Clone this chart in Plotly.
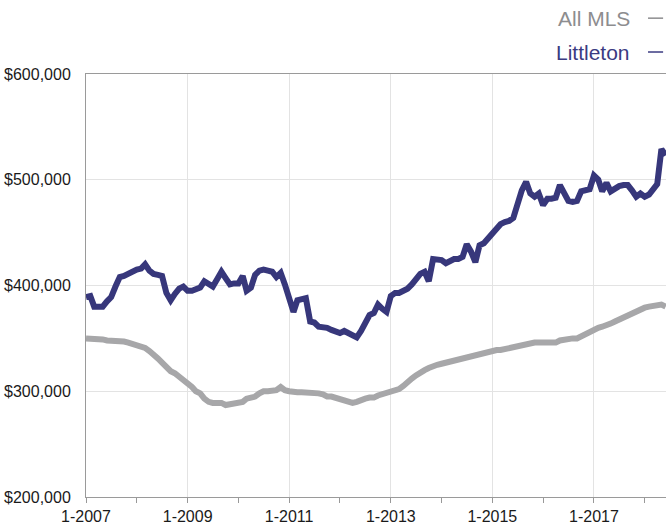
import pandas as pd
import plotly.graph_objects as go

# Monthly median sale price, Jan 2007 - Jun 2018 (thousands of dollars)
months = pd.date_range("2007-01-01", periods=138, freq="MS")

littleton_k = [
    389, 390, 380, 380, 380, 385, 389, 399, 408, 409, 411, 414,
    415, 416, 420, 414, 411, 410, 409, 393, 386, 392, 397, 399,
    395, 395, 396, 398, 404, 401, 399, 406, 413, 407, 401, 402,
    402, 409, 395, 398, 410, 414, 415, 414, 413, 408, 412, 401,
    389, 375, 386, 387, 388, 366, 365, 361, 361, 360, 358, 356,
    355, 357, 355, 353, 351, 357, 366, 372, 374, 382, 378, 375,
    390, 393, 393, 395, 397, 401, 407, 411, 413, 404, 425, 425,
    424, 421, 423, 425, 425, 427, 439, 432, 422, 438, 440, 445,
    450, 455, 458, 460, 461, 464, 478, 490, 498, 487, 484, 487,
    476, 482, 482, 483, 495, 486, 480, 479, 480, 489, 490, 491,
    504, 500, 489, 497, 489, 492, 494, 495, 495, 490, 484, 487,
    484, 486, 492, 496, 529, 523,
]

all_mls_k = [
    350, 350, 350, 349, 349, 348, 348, 348, 348, 347, 346, 345,
    344, 343, 341, 338, 335, 331, 327, 322, 319, 317, 314, 310,
    308, 304, 300, 298, 293, 290, 289, 289, 289, 287, 288, 289,
    289, 290, 293, 294, 295, 298, 300, 300, 300, 301, 304, 301,
    300, 299, 299, 299, 299, 299, 299, 298, 297, 295, 295, 294,
    293, 291, 290, 289, 290, 292, 293, 294, 294, 296, 297, 299,
    300, 300, 302, 305, 309, 312, 315, 318, 320, 322, 324, 325,
    326, 327, 329, 330, 331, 332, 333, 334, 335, 335, 336, 337,
    338, 339, 339, 340, 341, 341, 342, 343, 345, 346, 346, 346,
    346, 346, 346, 346, 348, 349, 350, 350, 350, 352, 355, 356,
    358, 360, 361, 362, 364, 366, 368, 370, 372, 374, 375, 377,
    379, 380, 381, 381, 382, 380,
]

series_names = ["All MLS", "Littleton"]
series_colors = ["#a7a7a9", "#37377b"]
label_colors = ["#8d8d8f", "#3b3b82"]

y_ticks = [200000, 300000, 400000, 500000, 600000]
y_tick_text = ["$200,000", "$300,000", "$400,000", "$500,000", "$600,000"]

fig = go.Figure()
for name, vals, color in zip(series_names, [all_mls_k, littleton_k], series_colors):
    fig.add_trace(go.Scatter(
        x=months, y=[v * 1000 for v in vals], mode="lines", name=name,
        line=dict(color=color, width=6, shape="linear"),
        hoverinfo="skip",
    ))

fig.update_layout(
    width=666, height=527,
    margin=dict(l=86, r=0, t=74, b=30),
    paper_bgcolor="white", plot_bgcolor="white",
    showlegend=False,
    font=dict(family="Liberation Sans, Arial, sans-serif", color="#1a1a1a"),
)

fig.update_xaxes(
    range=["2007-01-01", "2018-06-03"],
    tickmode="linear", tick0="2007-01-01", dtick="M24",
    tickformat="%-m-%Y",
    ticks="outside", ticklen=5, tickwidth=1, tickcolor="#999999",
    tickfont=dict(size=16, color="#1a1a1a"),
    showgrid=True, gridcolor="#e3e3e3", gridwidth=1,
    minor=dict(dtick="M12", tick0="2007-01-01", ticks="outside",
               ticklen=5, tickcolor="#999999", showgrid=False),
    showline=True, linecolor="#9a9a9a", linewidth=1, mirror=True,
    zeroline=False,
)

fig.update_yaxes(
    range=[200000, 600000],
    tickmode="array", tickvals=y_ticks, ticktext=y_tick_text,
    tickfont=dict(size=16, color="#1a1a1a"),
    ticks="", ticklabelstandoff=11,
    showgrid=True, gridcolor="#e3e3e3", gridwidth=1,
    showline=True, linecolor="#9a9a9a", linewidth=1,
    zeroline=False,
)

# Legend drawn as right-aligned labels followed by a short dash
legend_y = [1.132, 1.052]
for name, lc, ly in zip(series_names, label_colors, legend_y):
    fig.add_annotation(
        xref="paper", yref="paper", x=0.941, y=ly,
        xanchor="right", yanchor="middle", showarrow=False,
        text=name, font=dict(size=21, color=lc),
    )
    fig.add_shape(
        type="line", xref="paper", yref="paper",
        x0=0.969, x1=0.995, y0=ly, y1=ly,
        line=dict(color=lc, width=1.5),
    )

fig.write_html("out.html")
